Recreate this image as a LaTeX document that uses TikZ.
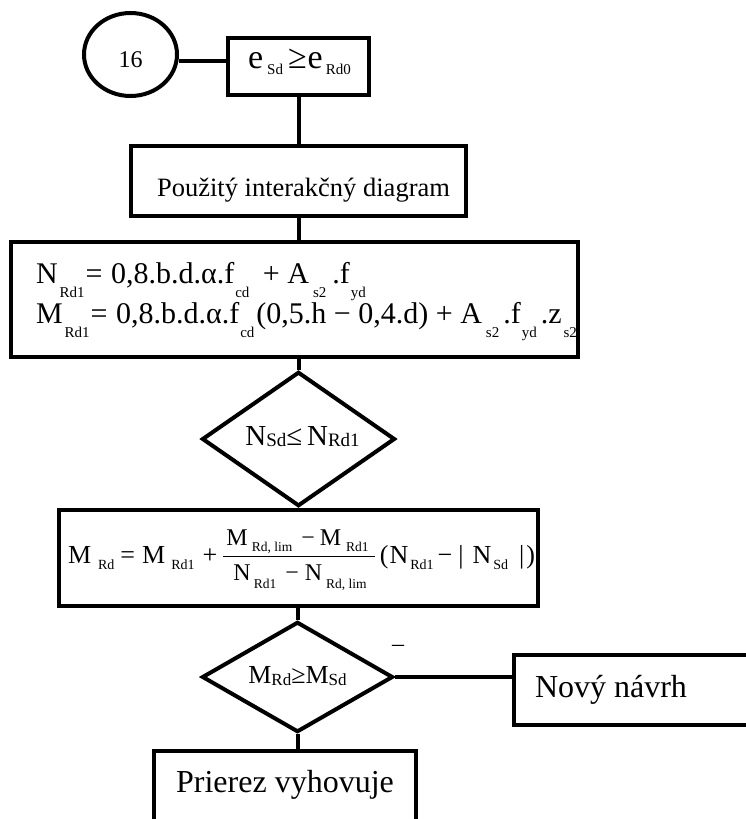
\RequirePackage{fix-cm}
\documentclass[tikz,border=0pt]{standalone}
\usepackage{fontspec}
\setmainfont{Liberation Serif}
\usetikzlibrary{shapes.geometric}

% lowered subscript: #1 drop, #2 size, #3 text
\newcommand\lw[3]{\raisebox{-#1pt}[0pt][0pt]{\fontsize{#2}{#2}\selectfont #3}}
\newcommand\fs[1]{\fontsize{#1}{#1}\selectfont}
\newcommand\hs[1]{\hspace{#1pt}}

\begin{document}
\begin{tikzpicture}[x=1pt,y=-1pt,line width=4pt,
  box/.style={draw,rectangle,inner sep=0pt},
  dia/.style={draw,diamond,inner sep=0pt},
  conn/.style={line width=4pt}]
\useasboundingbox (0,0) rectangle (746,819);

% start connector and first condition
\node[draw,ellipse,inner sep=0pt,minimum width=93,minimum height=83,
  text height=26pt,text depth=0pt,font=\fs{24}] (c16) at (130.5,54.5) {16};
\node[box,minimum width=141,minimum height=57,text height=3pt,text depth=0pt,font=\fs{34}] (esd) at (298.5,66.5)
  {\hs{2}e\hs{4}\lw{6}{15}{Sd}\hs{5}≥\hs{1}e\hs{3}\lw{6}{15}{Rd0}};

% interaction diagram step
\node[box,minimum width=335,minimum height=70,text height=30pt,text depth=0pt,font=\fs{26.5}] (pouz) at (298.5,181)
  {\hspace*{10pt}Použitý interakčný diagram};

% resistance formulas
\node[box,minimum width=567,minimum height=115,inner xsep=25pt,font=\fs{30}] (nrd) at (294.5,299.5)
  {\makebox[517pt][l]{\vbox{\baselineskip=40pt\lineskiplimit=-100pt\lineskip=0pt
   \hbox{N\hs{2}\lw{14}{15}{Rd1}\hs{1}=\hs{1} 0,8.b.d.α.f\hs{1}\lw{14}{15}{cd}\hs{6} + A\hs{4}\lw{14}{15}{s2}\hs{6}.f\hs{1}\lw{14}{15}{yd}}
   \hbox{M\hs{2}\lw{14}{15}{Rd1}\hs{1}=\hs{1} 0,8.b.d.α.f\hs{1}\lw{14}{15}{cd}\hs{2}(0,5.h − 0,4.d) + A\hs{4}\lw{14}{15}{s2}\hs{4}.f\hs{1}\lw{14}{15}{yd}\hs{4}.z\hs{2}\lw{14}{15}{s2}\rule[-14pt]{0pt}{1pt}}}}};

% axial force check
\node[dia,minimum width=193,minimum height=92,text height=12pt,text depth=0pt,font=\fs{29}] (d1) at (298.5,439)
  {\hs{8}N\lw{1}{19}{Sd}≤\,N\lw{1}{19}{Rd1}};

% interpolated moment
\node[box,minimum width=479,minimum height=96,text height=10pt,text depth=0pt,font=\fs{26}] (mrd) at (298.5,558)
  {\hs{6}M\hs{7}\lw{6}{14}{Rd}\hs{6}=\hs{7}M\hs{6}\lw{6}{14}{Rd1}\hs{8}+\hs{5}$\displaystyle\frac{\hbox{\fs{24}\hs{3}M\hs{4}\lw{6}{13.5}{Rd, lim}\hs{9}−\hs{5}M\hs{5}\lw{6}{13.5}{Rd1}\hs{6}}}{\hbox{\fs{24}\hs{2}N\hs{3}\lw{8}{13.5}{Rd1}\hs{9}−\hs{6}N\hs{4}\lw{8}{13.5}{Rd, lim}}}$\hs{4}(\hs{1}N\hs{2}\lw{6}{14}{Rd1}\hs{4}−\hs{6}|\hs{9}N\hs{2}\lw{6}{14}{Sd}\hs{11}|\hs{2})};

% moment check
\node[dia,minimum width=191,minimum height=92,text height=12pt,text depth=0pt,font=\fs{26}] (d2) at (297.5,677)
  {M\lw{2}{17}{Rd}≥M\lw{2}{17}{Sd}};
\node[text height=10.6pt,text depth=0pt,inner sep=0pt,font=\fs{24}] (neg) at (398,646) {–};

% outcomes
\node[box,minimum height=70.5,inner xsep=21pt,text height=14.5pt,text depth=0pt,font=\fs{32}] (nov) at (633,689.75) {\makebox[196pt][l]{Nový návrh}};
\node[box,anchor=base,inner ysep=0pt,inner xsep=0pt,minimum width=262.5,text height=41pt,text depth=40pt,font=\fs{32}] (ok) at (285,792) {Prierez vyhovuje};

% connectors
\draw[conn] ([yshift=-6.5pt]c16.east) -- ([yshift=5.5pt]esd.west);
\draw[conn] (esd.south) -- (pouz.north);
\draw[conn] (pouz.south) -- (pouz.south |- nrd.north);
\draw[conn] (d1.north |- nrd.south) -- (d1.north);
\draw[conn] (d1.south) -- (mrd.north);
\draw[conn] (d2.north |- mrd.south) -- (d2.north);
\draw[conn] (d2.south) -- (d2.south |- ok.north);
\draw[conn] (d2.east) -- (d2.east -| nov.west);
\end{tikzpicture}
\end{document}
